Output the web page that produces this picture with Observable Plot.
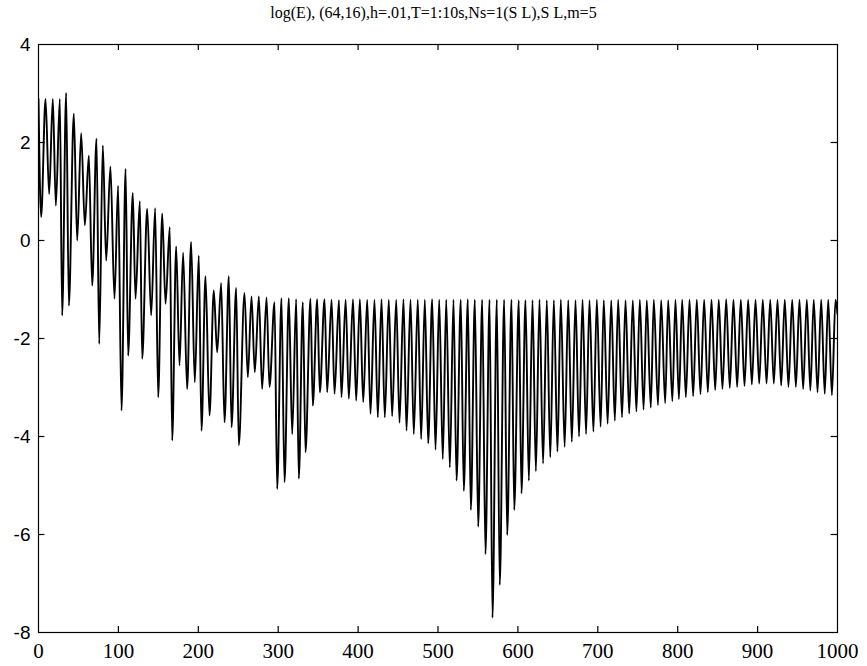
<!DOCTYPE html>
<html>
<head>
<meta charset="utf-8">
<script src="https://cdn.jsdelivr.net/npm/d3@7"></script>
<script src="https://cdn.jsdelivr.net/npm/@observablehq/plot@0.6"></script>
<style>
  html, body { margin: 0; padding: 0; background: #fff; }
  #title { height: 24px; line-height: 26px; text-align: center; font-family: "Liberation Serif", "DejaVu Serif", serif; font-size: 16px; color: #000; width: 867px; }
  svg { display: block; }
</style>
</head>
<body>
<div id="title"></div>
<div id="chart"></div>
<script>
const titleText = "log(E), (64,16),h=.01,T=1:10s,Ns=1(S L),S L,m=5";

const peakX = [0, 8.8, 17.9, 26.7, 34.6, 44.2, 53.4, 63.0, 72.6, 80.5, 90.0, 99.6, 109.0, 118.0, 126.8, 136.0, 146.0, 154.8, 164.3, 172.3, 181.0, 191.0, 200.6, 209.0, 219.4, 228.6, 238.2, 247.4, 257.8, 266.6, 275.8, 285.4, 295.4, 304.1, 313.3, 322.5, 330.8, 340.4, 348.8, 358.0, 366.8, 376.0, 384.4, 393.6,
  402.2, 411.4, 420.5, 429.3, 438.4, 447.7, 456.8, 465.6, 474.7, 483.5, 492.7, 501.5, 510.3, 519.4, 528.5, 537.3, 546.1, 555.3, 564.5, 573.6, 582.8, 592.0, 601.1,
  609.5, 618.3, 627.0, 636.2, 645.0, 653.7, 663.0, 672.1, 680.9, 689.6, 698.8, 707.5, 716.8, 725.5, 734.7, 743.8, 752.6, 761.3, 770.1, 779.3, 788.1, 797.2,
  805.6, 814.8, 823.9, 833.1, 842.3, 851.4, 860.7, 869.8, 879.0, 888.2, 897.4, 906.5, 915.8, 924.9, 934.0, 943.3, 952.4, 961.6, 970.3, 979.6, 988.4, 997.5];

const peakY = [2.89, 2.89, 2.89, 2.89, 3.01, 2.59, 2.19, 1.73, 2.08, 1.94, 1.51, 1.12, 1.46, 0.97, 0.80, 0.65, 0.66, 0.55, 0.27, -0.12, -0.25, -0.03, -0.31, -0.73, -1.02, -0.87, -0.73, -0.97, -1.07, -1.14, -1.14, -1.16, -1.26, -1.18, -1.18, -1.20, -1.26, -1.19, -1.20, -1.20, -1.21, -1.22, -1.21, -1.20,
  -1.20, -1.21, -1.21, -1.20, -1.21, -1.21, -1.20, -1.21, -1.21, -1.21, -1.20, -1.21, -1.21, -1.21, -1.21, -1.20, -1.21, -1.21, -1.21, -1.21, -1.21, -1.21, -1.22,
  -1.22, -1.22, -1.21, -1.22, -1.22, -1.21, -1.22, -1.22, -1.21, -1.22, -1.21, -1.22, -1.22, -1.21, -1.22, -1.22, -1.21, -1.22, -1.21, -1.22, -1.22, -1.21,
  -1.21, -1.21, -1.21, -1.21, -1.21, -1.21, -1.20, -1.21, -1.21, -1.21, -1.21, -1.21, -1.21, -1.21, -1.21, -1.21, -1.21, -1.21, -1.21, -1.21, -1.21, -1.21];

const troughX = [3.3, 13.3, 21.7, 29.6, 38.0, 48.4, 58.0, 67.2, 76.0, 84.7, 95.1, 103.9, 112.2, 121.4, 129.8, 141.0, 149.8, 159.0, 167.3, 176.5, 186.0, 195.6, 204.0, 214.0, 223.6, 232.8, 241.6, 250.7, 262.0, 270.7, 279.9, 289.1, 298.7, 307.9, 317.5, 325.8, 334.2, 343.3, 352.1, 361.3, 370.5, 379.2, 388.4, 397.6,
  406.4, 415.5, 424.7, 433.4, 442.6, 451.8, 460.6, 469.7, 478.9, 487.7, 496.9, 506.0, 514.8, 523.2, 532.3, 541.1, 550.3, 559.4, 568.2, 577.3, 586.6, 595.4,
  604.5, 613.7, 622.5, 631.5, 640.5, 649.5, 658.5, 667.5, 676.5, 685.3, 694.5, 703.5, 712.3, 721.3, 730.3, 739.3, 748.3, 757.3, 766.3, 775.3, 784.3, 793.3,
  801.5, 810.2, 819.3, 828.5, 837.7, 846.9, 856.0, 865.2, 874.4, 883.6, 892.8, 902.0, 911.2, 920.3, 929.5, 938.6, 947.9, 957.0, 966.0, 975.0, 984.0, 993.0];

const troughY = [0.48, 0.95, 0.71, -1.53, -1.33, 0.00, 0.31, -0.92, -2.11, -0.41, -1.19, -3.47, -2.35, -1.19, -2.41, -1.53, -3.20, -1.29, -4.08, -2.55, -3.03, -2.89, -3.88, -3.57, -2.28, -3.71, -3.81, -4.18, -2.79, -2.69, -3.03, -2.99, -5.07, -4.93, -3.95, -4.86, -4.32, -3.37, -3.10, -3.10, -3.13, -3.20, -3.23, -3.27,
  -3.30, -3.54, -3.61, -3.61, -3.59, -3.72, -3.88, -3.95, -4.05, -4.14, -4.27, -4.46, -4.63, -4.90, -5.11, -5.50, -5.84, -6.40, -7.70, -7.03, -6.01, -5.50,
  -5.16, -4.90, -4.71, -4.55, -4.42, -4.31, -4.21, -4.11, -4.00, -3.95, -3.90, -3.80, -3.74, -3.68, -3.61, -3.53, -3.49, -3.45, -3.41, -3.36, -3.32, -3.28,
  -3.24, -3.20, -3.18, -3.14, -3.10, -3.05, -3.03, -3.01, -2.99, -2.97, -2.94, -2.92, -2.92, -2.92, -2.96, -2.99, -2.99, -3.03, -3.06, -3.10, -3.13, -3.16];

const endPoint = {x: 1000, y: -1.5};

const xTicks = [0, 100, 200, 300, 400, 500, 600, 700, 800, 900, 1000];
const yTicks = [-8, -6, -4, -2, 0, 2, 4];

// Build the series table from the read peaks and troughs
const points = [];
peakX.forEach((x, i) => points.push({x, y: peakY[i]}));
troughX.forEach((x, i) => points.push({x, y: troughY[i]}));
points.push(endPoint);
points.sort((a, b) => a.x - b.x);

document.getElementById("title").textContent = titleText;

const chart = Plot.plot({
  width: 867,
  height: 642,
  marginTop: 20,
  marginBottom: 34,
  marginLeft: 38,
  marginRight: 30,
  x: {domain: [0, 1000], axis: null},
  y: {domain: [-8, 4], axis: null},
  style: {background: "#fff"},
  marks: [
    Plot.line(points, {x: "x", y: "y", stroke: "#000", strokeWidth: 1.9, curve: "monotone-x", clip: true}),
    // inward ticks, bottom & top
    Plot.ruleX(xTicks.slice(1, -1), {y1: -8, y2: -7.88, stroke: "#000", strokeWidth: 1.2}),
    Plot.ruleX(xTicks.slice(1, -1), {y1: 4, y2: 3.88, stroke: "#000", strokeWidth: 1.2}),
    // inward ticks, left & right
    Plot.ruleY(yTicks.slice(1, -1), {x1: 0, x2: 8, stroke: "#000", strokeWidth: 1.2}),
    Plot.ruleY(yTicks.slice(1, -1), {x1: 1000, x2: 992, stroke: "#000", strokeWidth: 1.2}),
    Plot.frame({stroke: "#000", strokeWidth: 1.2}),
    // tick labels
    Plot.text(xTicks, {x: d => d, y: -8, dy: 19, text: d => String(d), fontSize: 21, fontFamily: "Liberation Serif", fill: "#000", textAnchor: "middle"}),
    Plot.text(yTicks, {x: 0, y: d => d, dx: -8, text: d => String(d), fontSize: 19, fontFamily: "Liberation Sans", fill: "#000", textAnchor: "end"})
  ]
});
document.getElementById("chart").appendChild(chart);
</script>
</body>
</html>
